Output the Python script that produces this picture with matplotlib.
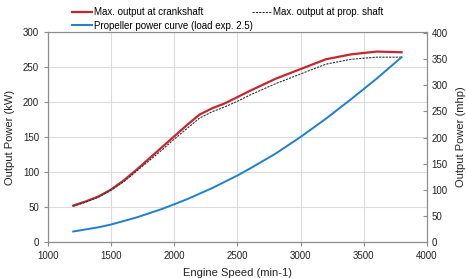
import matplotlib
matplotlib.use("Agg")
import matplotlib.pyplot as plt
from matplotlib.ticker import MultipleLocator

plt.rcParams['font.family'] = ['Liberation Sans', 'DejaVu Sans']

rpm = [1200, 1300, 1400, 1500, 1600, 1700, 1800, 1900, 2000, 2100, 2200, 2300, 2400,
       2500, 2600, 2800, 3000, 3200, 3400, 3600, 3800]
crank_kw = [52, 58, 65, 75, 88, 103, 119, 135, 151, 167, 182, 191, 198,
            207, 216, 233, 247, 261, 268, 272, 271]
prop_kw = [51, 57, 64, 74, 86, 101, 116, 131, 147, 162, 177, 186, 193,
           201, 210, 226, 240, 254, 261, 264, 264]
propeller_kw = [15, 18, 21, 25, 30, 35, 41, 47, 54, 61, 69, 77, 86,
                95, 105, 126, 150, 176, 204, 233, 264]

KW_PER_MHP = 0.7457

fig = plt.figure(figsize=(4.66, 2.78), dpi=100)
ax = fig.add_axes([0.103, 0.1295, 0.813, 0.7555])

l1, = ax.plot(rpm, crank_kw, color='#C8262C', lw=1.6, label='Max. output at crankshaft')
l2, = ax.plot(rpm, prop_kw, color='#333333', lw=0.8, ls=(0, (2, 1)), label='Max. output at prop. shaft')
l3, = ax.plot(rpm, propeller_kw, color='#1E7FD4', lw=1.4, label='Propeller power curve (load exp. 2.5)')

ax.set_xlim(1000, 4000)
ax.set_ylim(0, 300)
ax.xaxis.set_major_locator(MultipleLocator(500))
ax.yaxis.set_major_locator(MultipleLocator(50))
ax.grid(True, color='#dcdcdc', lw=0.8)
ax.set_axisbelow(True)
for s in ax.spines.values():
    s.set_color('#8c8c8c')
ax.tick_params(labelsize=7, colors='#8c8c8c', labelcolor='#222222', length=3)
ax.set_xlabel('Engine Speed (min-1)', fontsize=8, color='#222222', labelpad=5)
ax.set_ylabel('Output Power (kW)', fontsize=8, color='#222222', labelpad=6)

ax2 = ax.twinx()
ax2.set_ylim(0, 300 / KW_PER_MHP)
ax2.yaxis.set_major_locator(MultipleLocator(50))
for s in ax2.spines.values():
    s.set_color('#8c8c8c')
ax2.tick_params(labelsize=7, colors='#8c8c8c', labelcolor='#222222', length=3, direction='in')
ax2.set_ylabel('Output Power (mhp)', fontsize=8, color='#222222', labelpad=6)

common = dict(loc='upper left', fontsize=7, frameon=False, handlelength=2.0,
              handletextpad=0.2, labelspacing=0.35, borderpad=0, borderaxespad=0)
legA = fig.legend(handles=[l1, l3], bbox_to_anchor=(0.155, 0.974), **common)
legB = fig.legend(handles=[l2], bbox_to_anchor=(0.54, 0.974), **common)

fig.savefig('out.png', dpi=100)
